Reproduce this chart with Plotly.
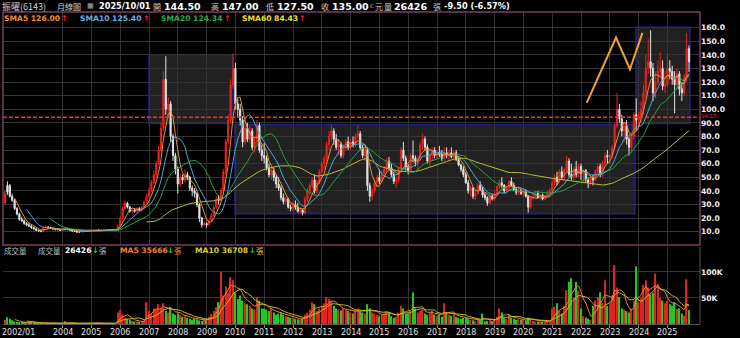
import plotly.graph_objects as go
import pandas as pd

# ---------------- data (monthly, 2002/01 .. 2025/10) ----------------
opens = [
    31, 44, 44, 36, 33, 27, 23, 19, 18, 16, 15, 14,                      # 2002
    13, 12, 11, 10.5, 10.2, 13, 13.5, 13, 12.5, 12, 11.5, 11.5,          # 2003
    11, 11.5, 12, 11.8, 11, 10.5, 10.2, 9.8, 9.8, 10, 10.2, 10.5,        # 2004
    10.5, 10.8, 11, 11.3, 11, 10.8, 11, 11.3, 11.5, 11.2, 11, 11.5,      # 2005
    14, 20, 27, 31, 28, 25, 26, 25, 27, 26, 28, 32,                      # 2006
    36, 40, 46, 52, 60, 70, 86, 122, 100, 104, 80, 66,                   # 2007
    56, 45, 50, 48, 52, 50, 42, 40, 38, 30, 20, 15,                      # 2008
    16, 15, 18, 22, 28, 34, 33, 40, 54, 76, 92, 118,                     # 2009
    130, 104, 100, 92, 76, 86, 78, 84, 72, 76, 88, 70,                   # 2010
    66, 64, 57, 52, 55, 50, 45, 42, 35, 32, 34, 28,                      # 2011
    27, 30, 28, 25, 26, 24, 34, 40, 44, 48, 40, 46,                      # 2012
    54, 60, 64, 74, 80, 84, 78, 72, 74, 66, 72, 76,                      # 2013
    72, 76, 74, 80, 82, 72, 66, 70, 44, 36, 40, 46,                      # 2014
    50, 47, 53, 56, 62, 57, 52, 47, 48, 56, 70, 64,                      # 2015
    58, 55, 66, 64, 62, 64, 74, 78, 72, 62, 66, 70,                      # 2016
    66, 68, 67, 64, 68, 66, 68, 65, 68, 63, 59, 56,                      # 2017
    52, 46, 40, 42, 36, 38, 44, 41, 37, 35, 31, 36,                      # 2018
    34, 38, 43, 46, 44, 40, 42, 47, 44, 41, 39, 40,                      # 2019
    38, 40, 36, 28, 35, 36, 38, 35, 37, 34, 36, 38,                      # 2020
    40, 46, 50, 47, 54, 50, 55, 62, 52, 50, 56, 52,                      # 2021
    58, 53, 55, 48, 46, 50, 48, 54, 58, 52, 60, 66,                      # 2022
    65, 66, 72, 88, 100, 93, 84, 88, 78, 72, 80, 96,                     # 2023
    92, 95, 100, 112, 130, 135, 130, 112, 120, 128, 130, 117,            # 2024
    118, 130, 128, 122, 118, 126, 115, 112, 123.5, 144.5,                # 2025
]
highs = [
    40, 47, 45, 38, 34, 28, 24, 21, 19, 17, 16.5, 15,
    13.5, 12.5, 11.5, 11, 13.8, 14.5, 14, 13.5, 12.8, 12.3, 12, 11.8,
    12, 12.8, 12.3, 12, 11.2, 10.8, 10.4, 10.2, 10.4, 10.6, 10.9, 11,
    11.2, 11.4, 11.8, 11.5, 11.2, 11.3, 11.7, 11.9, 11.8, 11.4, 11.8, 15,
    21, 29, 33, 32, 29, 27, 27, 28, 28, 29, 33, 38,
    42, 48, 55, 62, 73, 90, 128, 139, 109, 106, 82, 68,
    58, 53, 52, 56, 54, 51, 44, 42, 39, 31, 21, 17.5,
    17, 19, 23.5, 29, 36, 37, 42, 56, 78, 96, 122, 141,
    134, 108, 104, 95, 90, 90, 88, 86, 80, 92, 90, 74,
    75, 66, 60, 58, 57, 52, 50, 44, 38, 36, 35, 30,
    32, 33, 31, 28, 27, 36, 42, 46, 50, 52, 48, 56,
    62, 66, 76, 84, 88, 86, 82, 78, 76, 74, 78, 80,
    78, 80, 82, 88, 84, 74, 72, 72, 46, 42, 48, 52,
    56, 55, 58, 64, 65, 60, 54, 50, 58, 72, 76, 66,
    60, 68, 77, 66, 66, 76, 82, 80, 74, 70, 72, 72,
    70, 73, 70, 72, 72, 70, 72, 70, 70, 65, 60, 58,
    54, 48, 44, 43, 40, 46, 47, 43, 39, 36, 38, 38,
    40, 44, 48, 50, 45, 44, 48, 50, 46, 43, 42, 42,
    42, 41, 37, 36, 38, 40, 40, 38, 38, 37, 40, 42,
    48, 52, 54, 56, 58, 57, 66, 64, 60, 58, 62, 60,
    60, 56, 56, 50, 52, 52, 56, 60, 60, 62, 68, 70,
    68, 74, 90, 112, 104, 96, 90, 92, 80, 82, 98, 108,
    98, 106, 118, 140, 152, 158, 134, 128, 136, 142, 136, 128,
    140, 136, 132, 128, 130, 128, 120, 126, 156, 147,
]
lows = [
    30, 37, 35, 32, 26, 22, 18, 17, 15, 14, 13.5, 12,
    11.5, 10.5, 10, 9.5, 10, 12.5, 12.5, 12, 11.5, 11, 11, 10.5,
    10.8, 11.2, 11.3, 10.8, 10.2, 9.8, 9.2, 9.3, 9.5, 9.8, 10, 10.1,
    10.3, 10.6, 10.8, 10.8, 10.5, 10.6, 10.8, 11.1, 11, 10.8, 10.8, 11.3,
    13.5, 19, 26, 27, 24, 24, 24, 24, 25, 25, 27, 31,
    35, 39, 45, 50, 59, 68, 84, 96, 95, 76, 62, 52,
    38, 43, 45, 46, 48, 40, 36, 35, 28, 17, 13, 14,
    13, 14.5, 17, 21, 27, 30, 32, 38, 52, 74, 90, 115,
    100, 94, 88, 72, 74, 76, 75, 70, 68, 74, 68, 62,
    60, 55, 50, 48, 47, 42, 40, 33, 30, 30, 27, 25,
    25, 26, 24, 23, 22, 23, 32, 37, 42, 38, 38, 45,
    52, 56, 62, 70, 76, 74, 70, 66, 64, 64, 70, 70,
    70, 72, 72, 78, 70, 64, 62, 40, 32, 33, 38, 44,
    45, 46, 50, 54, 55, 50, 45, 42, 46, 55, 62, 55,
    52, 54, 62, 58, 55, 62, 70, 70, 60, 58, 62, 64,
    63, 65, 62, 62, 64, 62, 64, 62, 62, 58, 54, 50,
    45, 38, 36, 34, 33, 37, 40, 35, 33, 29, 30, 33,
    33, 37, 41, 42, 38, 38, 41, 43, 40, 37, 37, 37,
    36, 35, 24, 27, 33, 35, 34, 33, 33, 33, 35, 36,
    38, 44, 44, 46, 48, 48, 54, 50, 48, 48, 50, 50,
    48, 47, 46, 42, 44, 44, 47, 52, 50, 50, 58, 60,
    60, 64, 70, 86, 90, 80, 76, 74, 66, 68, 78, 84,
    86, 90, 96, 108, 126, 124, 106, 108, 118, 124, 114, 112,
    116, 122, 118, 97, 114, 110, 106, 110, 120, 127.5,
]
closes = [
    38, 39, 36, 33, 27, 23, 19, 18, 16, 15, 14, 13,
    12, 11, 10.5, 10.2, 13, 13.5, 13, 12.5, 12, 11.5, 11.5, 11,
    11.5, 12, 11.8, 11, 10.5, 10.2, 9.8, 9.8, 10, 10.2, 10.5, 10.5,
    10.8, 11, 11.3, 11, 10.8, 11, 11.3, 11.5, 11.2, 11, 11.5, 14,
    20, 27, 31, 28, 25, 26, 25, 27, 26, 28, 32, 36,
    40, 46, 52, 60, 70, 86, 122, 100, 104, 80, 66, 56,
    45, 50, 48, 52, 50, 42, 40, 38, 30, 20, 15, 16,
    15, 18, 22, 28, 34, 33, 40, 54, 76, 92, 118, 130,
    104, 100, 92, 76, 86, 78, 84, 72, 76, 88, 70, 66,
    64, 57, 52, 55, 50, 45, 42, 35, 32, 34, 28, 27,
    30, 28, 25, 26, 24, 34, 40, 44, 48, 40, 46, 54,
    60, 64, 74, 80, 84, 78, 72, 74, 66, 72, 76, 72,
    76, 74, 80, 82, 72, 66, 70, 44, 36, 40, 46, 50,
    47, 53, 56, 62, 57, 52, 47, 48, 56, 70, 64, 58,
    55, 66, 64, 62, 64, 74, 78, 72, 62, 66, 70, 66,
    68, 67, 64, 68, 66, 68, 65, 68, 63, 59, 56, 52,
    46, 40, 42, 36, 38, 44, 41, 37, 35, 31, 36, 34,
    38, 43, 46, 44, 40, 42, 47, 44, 41, 39, 40, 38,
    40, 36, 28, 35, 36, 38, 35, 37, 34, 36, 38, 40,
    46, 50, 47, 54, 50, 55, 62, 52, 50, 56, 52, 58,
    53, 55, 48, 46, 50, 48, 54, 58, 52, 60, 66, 65,
    66, 72, 88, 100, 93, 84, 88, 78, 72, 80, 96, 92,
    95, 100, 112, 130, 135, 130, 112, 120, 128, 130, 117, 118,
    130, 128, 122, 118, 126, 115, 112, 123.5, 144.5, 135,
]
volumes_k = [
    8, 13, 10, 7, 5, 4, 3, 3, 2, 2, 2, 2,
    2, 1.5, 1.5, 1, 3, 2, 1.5, 1.5, 1, 1, 1, 1,
    1.5, 6, 1.5, 1, 1, 1, 1, 1, 1, 1, 1, 1,
    1, 1, 4, 1, 1, 1, 1.5, 1.5, 1.5, 1, 1, 22,
    27, 18, 12, 10, 8, 6, 5, 5, 4, 5, 6, 42,
    25, 20, 30, 28, 38, 30, 40, 25, 22, 33, 20, 18,
    20, 18, 14, 15, 12, 10, 8, 10, 9, 7, 6, 8,
    10, 14, 19, 25, 32, 42, 100, 55, 72, 60, 90, 84,
    60, 48, 55, 45, 40, 38, 35, 30, 28, 52, 45, 30,
    30, 28, 25, 30, 22, 18, 20, 22, 18, 15, 14, 12,
    12, 10, 9, 8, 10, 18, 22, 28, 42, 38, 25, 30,
    35, 40, 52, 48, 45, 35, 30, 28, 26, 30, 28, 25,
    22, 20, 28, 30, 25, 22, 20, 38, 30, 22, 20, 18,
    15, 18, 20, 25, 22, 15, 12, 14, 22, 35, 30, 20,
    20, 25, 61, 30, 22, 25, 28, 20, 18, 22, 25, 18,
    15, 18, 14, 40, 22, 18, 16, 20, 14, 12, 10, 12,
    12, 10, 8, 7, 6, 10, 8, 20, 5, 6, 8, 6,
    10, 14, 30, 22, 12, 10, 18, 12, 10, 8, 9, 8,
    8, 7, 12, 10, 6, 5, 5, 5, 4, 4, 5, 6,
    30, 33, 40, 25, 20, 35, 65, 81, 88, 50, 81, 64,
    30, 15, 12, 10, 8, 35, 45, 52, 61, 40, 84, 35,
    40, 55, 113, 70, 52, 30, 28, 25, 22, 30, 45, 111,
    42, 50, 75, 84, 70, 57, 60, 97, 77, 50, 45, 40,
    45, 38, 35, 42, 28.75, 30, 20, 16, 86, 26.426,
]
year_labels = [str(y) for y in range(2004, 2026)]
price_ticks = [10, 20, 30, 40, 50, 60, 70, 80, 90, 100, 110, 120, 130, 140, 150, 160]
vol_ticks = [50, 100]
vol_tick_text = ["50K", "100K"]
resistance = 94.15

# ---------------- derived ----------------
n = len(closes)
x = list(range(n))
c = pd.Series(closes)
v = pd.Series(volumes_k)
sma = {k: c.rolling(k).mean() for k in (5, 10, 20, 60)}
vma5 = v.rolling(5).mean()
vma10 = v.rolling(10).mean()
year_idx = [12 * (int(y) - 2002) for y in year_labels]

UP = "#e8231c"
DOWN = "#e2e2e2"
VUP = "#e0231c"
VDN = "#27c427"
vol_colors = [VUP if closes[i] >= opens[i] else VDN for i in range(n)]

fig = go.Figure()
fig.add_trace(go.Bar(x=x, y=volumes_k, marker=dict(color=vol_colors, line=dict(width=0)),
                     width=0.62, xaxis="x2", yaxis="y2", hoverinfo="skip"))
fig.add_trace(go.Scatter(x=x, y=vma5, mode="lines", line=dict(color="#e58a2e", width=1),
                         xaxis="x2", yaxis="y2", hoverinfo="skip"))
fig.add_trace(go.Scatter(x=x, y=vma10, mode="lines", line=dict(color="#c9b82a", width=1),
                         xaxis="x2", yaxis="y2", hoverinfo="skip"))
fig.add_trace(go.Candlestick(x=x, open=opens, high=highs, low=lows, close=closes,
                             increasing=dict(line=dict(color=UP, width=1), fillcolor=UP),
                             decreasing=dict(line=dict(color=DOWN, width=1), fillcolor=DOWN),
                             whiskerwidth=0, xaxis="x", yaxis="y", hoverinfo="skip"))
for k, col in ((60, "#b9b934"), (20, "#27a040"), (10, "#4aa6d6"), (5, "#e8902c")):
    fig.add_trace(go.Scatter(x=x, y=sma[k], mode="lines", line=dict(color=col, width=1),
                             xaxis="x", yaxis="y", hoverinfo="skip"))

# ---------------- layout ----------------
L, R, T, B = 3, 40, 12, 14
W, H = 740, 338
PW, PH = W - L - R, H - T - B


def px(p):
    return (p - L) / PW


def py(p):
    return (H - B - p) / PH


XR = [(L - 5) / 2.4, (W - R - 5) / 2.4]
GRID = "#333333"
price_dom = [py(245), 1.0]
vol_dom = [0.0, py(247)]

fig.update_layout(
    width=W, height=H, margin=dict(l=L, r=R, t=T, b=B, autoexpand=False),
    paper_bgcolor="black", plot_bgcolor="black", showlegend=False,
    xaxis=dict(domain=[0, 1], range=XR, anchor="y", tickvals=year_idx, showticklabels=False,
               showgrid=True, gridcolor=GRID, gridwidth=1, zeroline=False, ticks="",
               rangeslider=dict(visible=False), showline=False, automargin=False),
    yaxis=dict(domain=price_dom, range=[0.2, 171.5], side="right", tickvals=price_ticks,
               ticktext=[f"{t:.1f}" for t in price_ticks], showgrid=True, gridcolor=GRID,
               zeroline=False, ticks="", showline=False, automargin=False,
               tickfont=dict(family="DejaVu Sans", size=7.6, color="#f2f2f2", weight="bold")),
    xaxis2=dict(domain=[0, 1], range=XR, anchor="y2", tickvals=year_idx, showticklabels=False,
                showgrid=True, gridcolor=GRID, zeroline=False, ticks="outside", ticklen=3,
                tickcolor="#888888", showline=True, linecolor="#555555", automargin=False),
    yaxis2=dict(domain=vol_dom, range=[0, 148], side="right", tickvals=vol_ticks,
                ticktext=vol_tick_text, showgrid=True, gridcolor=GRID, zeroline=False,
                ticks="", showline=False, automargin=False,
                tickfont=dict(family="DejaVu Sans", size=7.6, color="#f2f2f2", weight="bold")),
)

shapes = []
# shaded consolidation boxes
for x0, x1, y0, y1 in ((60.0, 95.0, 89.6, 140.0), (95.8, 262.5, 23.2, 88.7), (262.9, 285.4, 89.6, 160.2)):
    shapes.append(dict(type="rect", xref="x", yref="y", x0=x0, x1=x1, y0=y0, y1=y1,
                       fillcolor="rgba(150,150,150,0.22)", line=dict(color="#222288", width=1.5),
                       layer="below"))
# resistance line
shapes.append(dict(type="line", xref="paper", yref="y", x0=0, x1=1, y0=resistance, y1=resistance,
                   line=dict(color="#ff2a2a", width=1.5, dash="4px,2px")))
# zigzag pattern drawing
shapes.append(dict(type="path", xref="x", yref="y",
                   path="M 242.4,104.8 L 254.6,152.7 L 260.4,129.4 L 265.6,156.1",
                   line=dict(color="#f0a030", width=2)))
# price panel border
shapes.append(dict(type="rect", xref="paper", yref="paper", x0=0, x1=1, y0=py(245), y1=1,
                   line=dict(color="#7e3d5f", width=1.5), fillcolor="rgba(0,0,0,0)"))
# volume panel right border
shapes.append(dict(type="line", xref="paper", yref="paper", x0=1, x1=1, y0=0, y1=py(247),
                   line=dict(color="#555555", width=1)))
fig.update_layout(shapes=shapes)

CJK = "Noto Sans CJK TC"
NUM = "DejaVu Sans"
ann = []


def T_(xp, yp, text, color="#c8c8c8", size=9, family=NUM, bold=False, anchor="left", xref="paper"):
    ann.append(dict(x=px(xp) if xref == "paper" else xp, y=py(yp), xref=xref, yref="paper",
                    text=text, showarrow=False, xanchor=anchor, yanchor="middle",
                    font=dict(family=family, size=size, color=color, weight="bold" if bold else "normal")))


# header row
T_(0, 6, "振曜(6143)", "#cfcfcf", 9, CJK)
T_(55, 6, "月線圖", "#cfcfcf", 8, CJK)
T_(85, 6, "▦", "#aaaaaa", 7)
T_(97, 6, "2025/10/01", "#ffffff", 8.2, NUM, True)
T_(151, 6, "開", "#cfcfcf", 8, CJK)
T_(162, 6, "144.50", "#ffffff", 9.5, NUM, True)
T_(209, 6, "高", "#cfcfcf", 8, CJK)
T_(220, 6, "147.00", "#ffffff", 9.5, NUM, True)
T_(264, 6, "低", "#cfcfcf", 8, CJK)
T_(275, 6, "127.50", "#ffffff", 9.5, NUM, True)
T_(319, 6, "收", "#cfcfcf", 8, CJK)
T_(330, 6, "135.00", "#ffffff", 9.5, NUM, True)
T_(368, 6, "c", "#aaaaaa", 6.5)
T_(373, 6, "元", "#cfcfcf", 8, CJK)
T_(382, 6, "量", "#cfcfcf", 8, CJK)
T_(392, 6, "26426", "#ffffff", 9.5, NUM, True)
T_(431, 6, "張", "#cfcfcf", 8, CJK)
T_(442, 6, "-9.50 (-6.57%)", "#ffffff", 8.2, NUM, True)

# SMA legend row
T_(2, 18, "SMA5 126.00", "#f0902a", 7.6, NUM, True)
T_(59, 18, "↑", "#ff2020", 8, NUM, True)
T_(78, 18, "SMA10 125.40", "#5cb4e6", 7.6, NUM, True)
T_(141, 18, "↑", "#ff2020", 8, NUM, True)
T_(159, 18, "SMA20 124.34", "#22b044", 7.6, NUM, True)
T_(222, 18, "↑", "#ff2020", 8, NUM, True)
T_(240, 18, "SMA60 84.43", "#e6e62a", 7.6, NUM, True)
T_(297, 18, "↑", "#ff2020", 8, NUM, True)

# resistance label
T_(699, 115.5, "94.15", "#ff2a2a", 5.5)

# volume header
T_(2, 251, "成交量", "#bdbdbd", 7.5, CJK)
T_(36, 251, "成交量", "#bdbdbd", 7.5, CJK)
T_(63, 251, "26426", "#ffffff", 7.6, NUM, True)
T_(90, 251, "↓", "#20d020", 8, NUM, True)
T_(97, 251, "張", "#bdbdbd", 7.5, CJK)
T_(118, 251, "MA5 35666", "#e8862a", 7.6, NUM, True)
T_(165, 251, "↓", "#20d020", 8, NUM, True)
T_(172, 251, "張", "#e8862a", 7.5, CJK)
T_(193, 251, "MA10 36708", "#dcd02a", 7.6, NUM, True)
T_(247, 251, "↓", "#20d020", 8, NUM, True)
T_(254, 251, "張", "#dcd02a", 7.5, CJK)

# x labels (bottom)
T_(0, 332, "2002/01", "#e0e0e0", 8)
for xi, lab in zip(year_idx, year_labels):
    T_(xi, 332, lab, "#e0e0e0", 8, NUM, False, "center", "x2")

fig.update_layout(annotations=ann)
fig.write_html("out.html")
